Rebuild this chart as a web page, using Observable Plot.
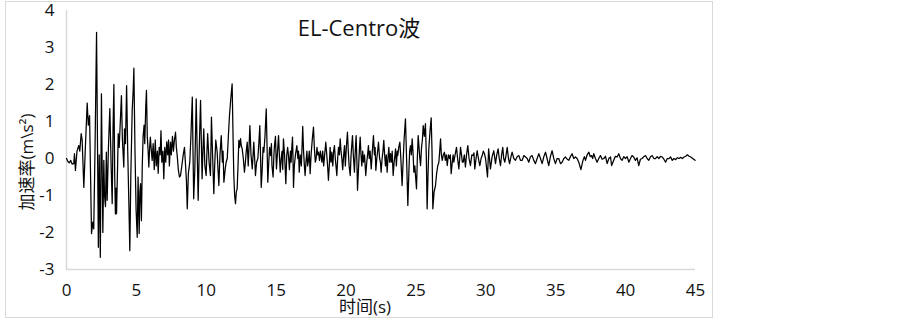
<!DOCTYPE html>
<html>
<head>
<meta charset="utf-8">
<script src="https://cdn.jsdelivr.net/npm/d3@7"></script>
<script src="https://cdn.jsdelivr.net/npm/@observablehq/plot@0.6"></script>
<style>
  html, body { margin: 0; padding: 0; background: #fff; }
  #wrap { position: relative; width: 903px; height: 320px; }
  #border { position: absolute; left: 5px; top: 1px; width: 708px; height: 317px; box-sizing: border-box; border: 1.5px solid #d9d9d9; pointer-events: none; }
</style>
</head>
<body>
<div id="wrap"><div id="border"></div></div>
<script>
const title = "EL-Centro波";
const xLabel = "时间(s)";
const yLabel = "加速率(m\\s²)";
const xTicks = [0, 5, 10, 15, 20, 25, 30, 35, 40, 45];
const yTicks = [-3, -2, -1, 0, 1, 2, 3, 4];

const time = [
  0, 0.1, 0.2, 0.3, 0.4, 0.52, 0.57, 0.64, 0.75, 0.88, 0.95, 1.05, 1.12, 1.24, 1.35, 1.48, 1.56, 1.65,
  1.79, 1.88, 1.95, 2.05, 2.15, 2.28, 2.34, 2.42, 2.5, 2.6, 2.67, 2.72, 2.79, 2.85, 2.91, 3.0,
  3.1, 3.2, 3.27, 3.33, 3.39, 3.45, 3.5, 3.55, 3.58, 3.65, 3.7, 3.77, 3.85, 3.93, 4.0, 4.1, 4.15,
  4.22, 4.3, 4.38, 4.46, 4.53, 4.6, 4.7, 4.77, 4.82, 4.9, 4.98, 5.06, 5.12, 5.2, 5.25, 5.3, 5.36, 5.42, 5.48,
  5.55, 5.6, 5.67, 5.72, 5.78, 5.84, 5.89, 5.95, 6.0, 6.05, 6.13,
  6.2, 6.28, 6.35, 6.42, 6.5, 6.56, 6.63, 6.7, 6.76, 6.82, 6.9, 6.96, 7.03, 7.1, 7.17, 7.24, 7.3, 7.36, 7.44, 7.5, 7.58, 7.65, 7.72, 7.8, 7.86, 7.92,
  8.0, 8.08, 8.16, 8.25, 8.35, 8.44, 8.52, 8.58, 8.64, 8.72, 8.82, 8.9, 9.0,
  9.05, 9.1, 9.18, 9.28, 9.35, 9.42, 9.5, 9.59, 9.65, 9.7, 9.76, 9.82, 9.9, 9.99,
  10.05, 10.1, 10.2, 10.3, 10.37, 10.45, 10.54, 10.6, 10.68, 10.78, 10.84, 10.9, 10.98, 11.07,
  11.15, 11.2, 11.26, 11.35, 11.42, 11.5, 11.58, 11.66, 11.75, 11.85, 11.92, 11.97, 12.03, 12.09, 12.15, 12.21, 12.27,
  12.33, 12.38, 12.45, 12.5, 12.57, 12.65, 12.73, 12.8, 12.86, 12.93, 13.0, 13.06, 13.12, 13.2, 13.29, 13.35, 13.4, 13.46, 13.52,
  13.6, 13.69, 13.76, 13.83, 13.88, 13.93, 14.0, 14.06, 14.12, 14.2, 14.29, 14.35, 14.4, 14.47, 14.53, 14.6, 14.66, 14.7, 14.78, 14.84, 14.88, 14.95, 15.02,
  15.1, 15.17, 15.23, 15.29, 15.36, 15.42, 15.47, 15.52, 15.6, 15.65, 15.69, 15.76, 15.82, 15.88, 15.95, 16.02, 16.07, 16.12, 16.17,
  16.2, 16.24, 16.3, 16.38, 16.48, 16.55, 16.6, 16.65, 16.72, 16.8, 16.86, 16.9, 16.96, 17.02, 17.07, 17.13, 17.2, 17.25, 17.31, 17.37, 17.43,
  17.5, 17.58, 17.67, 17.73, 17.8, 17.86, 17.92, 17.97, 18.03, 18.1, 18.16, 18.22, 18.27, 18.33, 18.4, 18.47, 18.55, 18.62, 18.68, 18.74,
  18.8, 18.86, 18.92, 18.98, 19.05, 19.11, 19.17, 19.23, 19.28, 19.34, 19.4, 19.46, 19.52, 19.58, 19.64, 19.7, 19.76, 19.83, 19.89, 19.95, 20.02,
  20.1, 20.16, 20.22, 20.3, 20.36, 20.46, 20.52, 20.6, 20.66, 20.72, 20.77, 20.82, 20.9, 20.95, 21.01, 21.07, 21.13, 21.19, 21.25,
  21.32, 21.41, 21.48, 21.54, 21.6, 21.66, 21.72, 21.8, 21.88, 21.96, 22.03, 22.08, 22.13, 22.2, 22.26, 22.32, 22.4, 22.46, 22.51,
  22.58, 22.64, 22.7, 22.76, 22.82, 22.88, 22.94, 23.0, 23.06, 23.12, 23.18, 23.24, 23.3, 23.37, 23.44, 23.5, 23.54, 23.6, 23.66, 23.7, 23.77, 23.85, 23.92, 24.01,
  24.08, 24.15, 24.25, 24.33, 24.42, 24.5, 24.55, 24.61, 24.67, 24.73, 24.8, 24.85, 24.92, 25.04,
  25.1, 25.16, 25.22, 25.28, 25.33, 25.4, 25.46, 25.52, 25.6, 25.68, 25.74, 25.8, 25.86, 25.92, 26.0, 26.09, 26.15, 26.21, 26.3, 26.4,
  26.48, 26.56, 26.64, 26.7, 26.76, 26.82, 26.88, 26.96, 27.04, 27.1, 27.17, 27.24, 27.32, 27.4, 27.46, 27.52, 27.6, 27.66, 27.71,
  27.8, 27.9, 27.98, 28.07, 28.13, 28.19, 28.26, 28.32, 28.38, 28.46, 28.54, 28.62, 28.71, 28.8, 28.9, 29.0, 29.09,
  29.15, 29.21, 29.3, 29.38, 29.47, 29.57, 29.66, 29.74, 29.82, 29.9, 29.98, 30.12, 30.2,
  30.33, 30.45, 30.57, 30.69, 30.78, 30.88, 30.96, 31.05, 31.13, 31.21, 31.28, 31.36, 31.45, 31.53, 31.62, 31.7, 31.8, 31.88, 32.0,
  32.12, 32.24, 32.36, 32.48, 32.6, 32.72, 32.84, 32.96, 33.07, 33.19, 33.31, 33.43, 33.55, 33.67, 33.79, 33.91, 34.03, 34.15, 34.27, 34.38, 34.5, 34.62, 34.74, 34.86, 34.98, 35.1,
  35.22, 35.34, 35.46, 35.58, 35.7, 35.82, 35.94, 36.05, 36.17, 36.29, 36.41, 36.53, 36.65, 36.8, 36.95, 37.05, 37.13, 37.25, 37.37, 37.47, 37.56, 37.64, 37.72, 37.84, 37.96, 38.08, 38.2,
  38.32, 38.44, 38.56, 38.68, 38.8, 38.92, 39.0, 39.15, 39.27, 39.39, 39.51, 39.63, 39.75, 39.87, 39.99, 40.11, 40.23, 40.35, 40.46, 40.58, 40.7, 40.82, 40.94, 41.06, 41.18, 41.3,
  41.42, 41.54, 41.66, 41.78, 41.9, 42.02, 42.14, 42.26, 42.38, 42.5, 42.62, 42.74, 42.86, 42.98, 43.1, 43.22, 43.34, 43.46, 43.58, 43.7, 43.82, 43.94, 44.06, 44.18, 44.3, 44.42, 44.54, 44.66, 44.8, 44.97
];

const accel = [
  0, -0.08, -0.12, -0.05, -0.15, -0.14, 0.13, -0.32, 0.2, 0.35, 0.2, 0.67, 0.5, -0.78, 0.3, 1.5, 0.9, 1.16,
  -2.03, -1.72, -1.9, 0.5, 3.41, -2.4, 0.1, -2.67, 1.75, -2.0, -0.05, -1.0, -1.3, 0.17, -1.13, 0.3,
  1.35, -0.3, -1.22, 0.8, 2.0, -0.5, -1.5, -0.8, -1.49, -0.3, 0.67, 0.3, 1.0, 1.7, 0.5, -0.23, 0.8,
  0.4, 1.97, 0.2, -1.18, -2.49, -0.5, 1.3, 1.84, 2.44, 0.2, -1.4, -2.13, -0.5, -2.03, -0.9, -0.68, -1.68, -0.2, 0.6,
  0.9, 0.4, 1.4, 1.84, 0.6, 0.2, -0.23, 0.3, 0.58, 0.3, -0.05,
  0.4, -0.3, 0.5, -0.2, 0.2, -0.4, 0.3, 0.1, 0.75, -0.1, 0.2, -0.55, 0.3, -0.1, 0.45, 0.1, 0.5, -0.2, 0.44, 0.1, 0.6, 0.2, 0.5, 0.71, 0.3, 0.08,
  -0.3, -0.5, -0.46, -0.2, 0.1, 0.3, -0.2, -0.6, -1.36, -0.4, -0.1, 0.6, 1.66,
  0.2, -1.09, -0.3, 1.61, 0.2, -1.13, 0.3, 1.57, 0.4, -0.55, 0.2, 0.8, -0.2, -0.46,
  0.2, 0.67, -0.1, -0.46, 1.12, 0.1, -0.95, -0.2, 0.5, 0.17, -0.3, -0.73, 0.1, 0.62,
  -0.1, 0.2, -0.64, -0.3, -0.1, 0, 0.6, 1.16, 1.6, 2.02, 0.5, -0.46, -1.0, -1.22, -0.9, -0.82, -0.2,
  0.49, 0.3, 0.54, 0.35, 0.26, 0.0, -0.37, -0.1, 0.2, 0.44, -0.2, 0.3, 0.89, 0.1, -0.28, 0.1, 0.44, 0.0, -0.46,
  -0.1, 0, 0.4, 0.89, 0.1, -0.78, -0.3, 0.3, 0.17, 0.6, 1.34, 0.3, -0.64, -0.1, 0.3, 0.08, 0.4, -0.19, -0.5, 0.1, 0.35, 0.6, -0.28,
  0.2, 0.62, 0.1, -0.37, 0.0, 0.2, -0.3, 0.53, 0.1, -0.3, -0.68, 0.1, 0.3, 0.08, -0.3, 0.2, -0.1, 0.3, 0.58,
  0.1, -0.78, -0.2, 0.1, 0.35, 0.0, 0.2, -0.37, 0.1, -0.2, 0.4, 0.87, 0.2, -0.2, -0.46, -0.1, 0.2, -0.2, -0.05, 0.2, -0.41,
  0.1, 0.5, 0.85, 0.3, -0.1, 0, 0.3, 0.1, 0.17, -0.05, 0.2, 0.05, -0.1, 0.2, -0.2, 0.1, 0.44, 0.1, -0.2, -0.59,
  -0.2, 0.3, -0.1, 0.17, -0.2, 0.2, 0.35, 0.0, -0.2, -0.46, 0.0, 0.3, 0.1, 0.53, 0.2, 0, -0.3, 0.1, 0.35, -0.2, 0.3,
  0.71, 0.2, -0.2, -0.46, 0.1, 0.62, 0.1, -0.37, 0.2, 0.62, 0.0, -0.86, -0.2, 0.2, 0.58, 0.1, -0.2, 0.2, -0.1,
  0.1, -0.46, -0.1, 0.1, 0.35, 0.0, 0.2, -0.28, 0.2, 0.62, 0.1, 0.3, -0.32, 0.0, 0.2, 0.44, 0.0, -0.1, -0.37,
  0.0, 0.2, 0.49, 0.1, -0.2, 0.1, -0.37, 0.0, 0.3, -0.1, 0.13, -0.1, 0.2, -0.46, -0.1, 0.1, 0.26, -0.2, 0.2, 0.08, 0.3, 0.44, 0.0, -0.73,
  -0.1, 0.5, 1.07, 0.0, -1.27, -0.3, 0.2, 0.35, 0.1, 0.53, 0.1, -0.37, -0.2, -0.82,
  0.0, 0.62, 0.3, 0.0, -0.19, 0.3, 0.5, 0.89, 0.6, 0.94, 0.1, -1.36, -0.5, 0.26, 0.7, 1.1, 0.2, -1.36, -0.9, -0.73,
  -0.4, -0.2, -0.1, 0.2, 0.53, 0.1, -0.05, 0.1, 0.17, -0.05, 0.1, -0.19, 0.1, 0, 0.1, -0.41, -0.1, 0.1, -0.1,
  0.1, 0.3, 0.0, -0.28, 0.0, 0.3, 0.1, -0.1, -0.1, 0.1, -0.23, 0.1, 0.35, 0.0, -0.19, 0.1, 0.08,
  0.15, -0.28, 0.0, 0.21, 0.0, -0.19, 0.0, 0.08, 0.2, 0.13, 0.0, -0.5, 0.26,
  -0.28, 0.05, 0.21, -0.14, 0.1, 0.26, 0.0, -0.19, 0.1, 0.3, 0.0, -0.1, 0.1, 0.3, 0.0, -0.14, 0.05, 0.17, 0.0,
  -0.05, 0.05, 0.08, -0.05, -0.05, 0.08, 0.04, 0.0, -0.1, 0.05, 0.08, -0.05, -0.14, 0.0, 0.13, 0.0, -0.14, 0.05, 0.17, 0.0, -0.19, 0.05, 0.21, 0.0, -0.14, 0.0,
  0.0, -0.14, -0.1, 0.0, 0.04, -0.02, -0.05, 0.05, 0.13, 0.0, 0.04, 0.0, -0.1, -0.3, -0.05, 0.05, -0.05, 0.1, 0.17, 0.05, 0.08, 0.0, 0.13, 0.0, -0.1, 0.0, 0.08,
  -0.02, 0.0, 0.06, -0.14, 0.0, 0.04, -0.19, -0.05, 0.06, 0.04, 0.13, 0.0, -0.05, 0.05, 0, 0.05, -0.1, 0.0, 0.08, 0.04, -0.05, 0.02, -0.19, -0.02, 0, 0.05,
  0.08, 0.0, -0.05, 0.05, 0.08, 0.0, 0, 0.05, 0, 0.06, 0.04, -0.02, -0.1, 0.0, 0, 0.04, -0.05, 0.0, -0.03, 0.02, 0, 0.03, 0.0, 0.04, 0.06, 0.1, 0.06, 0.04, 0.0, -0.05
];

if (time.length !== accel.length) console.error("length mismatch", time.length, accel.length);
const data = time.map((t, i) => ({t, a: accel[i]}));

const font = "'Open Sans','Noto Sans CJK SC',sans-serif";
const chart = Plot.plot({
  width: 903,
  height: 320,
  marginLeft: 66,
  marginRight: 208,
  marginTop: 10,
  marginBottom: 51,
  style: {fontFamily: font, fontSize: "17px", color: "#111", background: "transparent", overflow: "visible"},
  x: {domain: [0, 45]},
  y: {domain: [-3, 4]},
  marks: [
    Plot.ruleX([0], {stroke: "#d9d9d9", strokeWidth: 1.5}),
    Plot.ruleY([-3], {stroke: "#d9d9d9", strokeWidth: 1.5}),
    Plot.axisX({ticks: xTicks, tickSize: 0, tickPadding: 14, label: null, tickFormat: d => String(d), fontSize: 17}),
    Plot.axisY({ticks: yTicks, tickSize: 0, tickPadding: 12, label: null, tickFormat: d => String(d), fontSize: 17}),
    Plot.line(data, {x: "t", y: "a", stroke: "#000", strokeWidth: 1.25}),
    Plot.text([title], {text: d => d, frameAnchor: "top", textAnchor: "middle", lineAnchor: "middle", dx: -22, dy: 18, fontSize: 22, fill: "#111"}),
    Plot.text([xLabel], {text: d => d, frameAnchor: "bottom", textAnchor: "middle", lineAnchor: "middle", dx: -16, dy: 38, fontSize: 17, fill: "#111"}),
    Plot.text([yLabel], {text: d => d, frameAnchor: "left", textAnchor: "middle", lineAnchor: "middle", rotate: -90, dx: -39, dy: 22, fontSize: 17, fill: "#111"})
  ]
});
document.getElementById("wrap").appendChild(chart);
</script>
</body>
</html>
